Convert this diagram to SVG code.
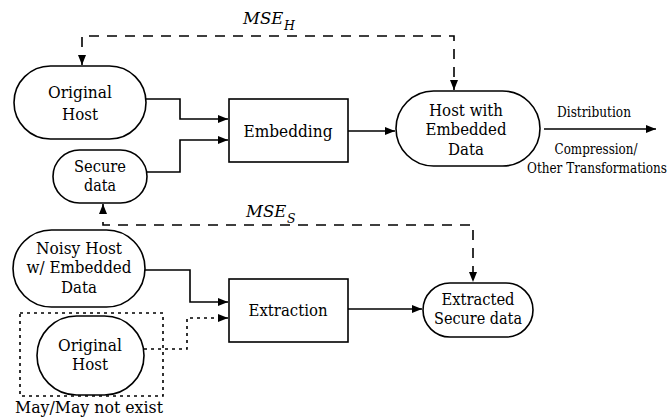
<svg xmlns="http://www.w3.org/2000/svg" width="672" height="418" viewBox="0 0 672 418">
<style>
.n{fill:#fff;stroke:#000;stroke-width:1.6}
text{font-family:'DejaVu Serif','Liberation Serif',serif;fill:#000}
.t{font-size:17.5px;text-anchor:middle}
.k{font-size:16px;text-anchor:middle}
.s{font-size:14px;text-anchor:middle}
.m{font-size:16.5px;font-style:italic}
.b{font-size:12.5px;font-style:italic}
.c{fill:none;stroke:#000;stroke-width:1.6}
.d{stroke-dasharray:10 8}
.o{stroke-dasharray:3 4}
</style>
<defs>
<marker id="ah" viewBox="0 0 10 8" refX="10" refY="4" markerWidth="10" markerHeight="8" markerUnits="userSpaceOnUse" orient="auto-start-reverse">
<path d="M0,0 L10,4 L0,8 z" fill="#000"/>
</marker>
</defs>
<g id="connectors">
<path class="c d" d="M82,65 V36 H454 V90" marker-start="url(#ah)" marker-end="url(#ah)"/>
<path class="c d" d="M103,204 V225 H473 V282" marker-start="url(#ah)" marker-end="url(#ah)"/>
<path class="c" d="M146,99 H180 V119 H228" marker-end="url(#ah)"/>
<path class="c" d="M147,172 H180 V140 H228" marker-end="url(#ah)"/>
<path class="c" d="M348,131 H395" marker-end="url(#ah)"/>
<path class="c" d="M544,129 H656" marker-end="url(#ah)"/>
<path class="c" d="M145,270 H190 V302 H228" marker-end="url(#ah)"/>
<path class="c o" d="M144,349 H187 V318 H228" marker-end="url(#ah)"/>
<path class="c" d="M348,309 H422" marker-end="url(#ah)"/>
</g>
<g id="mse-h-label">
<text class="m" x="243" y="24">MSE</text>
<text class="b" x="284" y="30">H</text>
</g>
<g id="mse-s-label">
<text class="m" x="246" y="217">MSE</text>
<text class="b" x="287" y="223">S</text>
</g>
<g id="original-host">
<rect class="n" x="14" y="66" width="132" height="73" rx="36.5"/>
<text class="t" x="80" y="98" textLength="64" lengthAdjust="spacingAndGlyphs">Original</text>
<text class="t" x="80" y="120" textLength="36" lengthAdjust="spacingAndGlyphs">Host</text>
</g>
<g id="secure-data">
<rect class="n" x="53" y="150" width="94" height="53" rx="26.5"/>
<text class="k" x="100" y="172" textLength="52" lengthAdjust="spacingAndGlyphs">Secure</text>
<text class="k" x="100" y="191" textLength="32" lengthAdjust="spacingAndGlyphs">data</text>
</g>
<g id="embedding">
<rect class="n" x="229" y="99" width="119" height="63"/>
<text class="t" x="288" y="137" textLength="89" lengthAdjust="spacingAndGlyphs">Embedding</text>
</g>
<g id="host-embedded">
<rect class="n" x="396" y="91" width="144" height="75" rx="37.5"/>
<text class="t" x="466" y="116" textLength="74" lengthAdjust="spacingAndGlyphs">Host with</text>
<text class="t" x="466" y="135" textLength="81" lengthAdjust="spacingAndGlyphs">Embedded</text>
<text class="t" x="466" y="155" textLength="36" lengthAdjust="spacingAndGlyphs">Data</text>
</g>
<g id="distribution-labels">
<text class="s" x="594" y="117" textLength="74" lengthAdjust="spacingAndGlyphs">Distribution</text>
<text class="s" x="596" y="154" textLength="83" lengthAdjust="spacingAndGlyphs">Compression/</text>
<text class="s" x="597" y="173" font-size="13" font-stretch="condensed" textLength="140" lengthAdjust="spacingAndGlyphs">Other Transformations</text>
</g>
<g id="noisy-host">
<rect class="n" x="13" y="230" width="132" height="77" rx="38.5"/>
<text class="t" x="79" y="254" textLength="86" lengthAdjust="spacingAndGlyphs">Noisy Host</text>
<text class="t" x="79" y="273" textLength="105" lengthAdjust="spacingAndGlyphs">w/ Embedded</text>
<text class="t" x="79" y="293" textLength="36" lengthAdjust="spacingAndGlyphs">Data</text>
</g>
<g id="optional-original-host">
<rect x="20" y="313" width="143" height="83" fill="none" stroke="#000" stroke-width="1.6" stroke-dasharray="3 4"/>
<rect class="n" x="37" y="316" width="107" height="79" rx="39.5"/>
<text class="t" x="90" y="351" textLength="64" lengthAdjust="spacingAndGlyphs">Original</text>
<text class="t" x="90" y="370" textLength="36" lengthAdjust="spacingAndGlyphs">Host</text>
<text class="t" x="89" y="413" textLength="148" lengthAdjust="spacingAndGlyphs">May/May not exist</text>
</g>
<g id="extraction">
<rect class="n" x="229" y="279" width="119" height="63"/>
<text class="t" x="288" y="316" textLength="79" lengthAdjust="spacingAndGlyphs">Extraction</text>
</g>
<g id="extracted-secure">
<rect class="n" x="423" y="283" width="110" height="54" rx="27"/>
<text class="k" x="478" y="305" textLength="73" lengthAdjust="spacingAndGlyphs">Extracted</text>
<text class="k" x="478" y="324" textLength="88" lengthAdjust="spacingAndGlyphs">Secure data</text>
</g>
</svg>
